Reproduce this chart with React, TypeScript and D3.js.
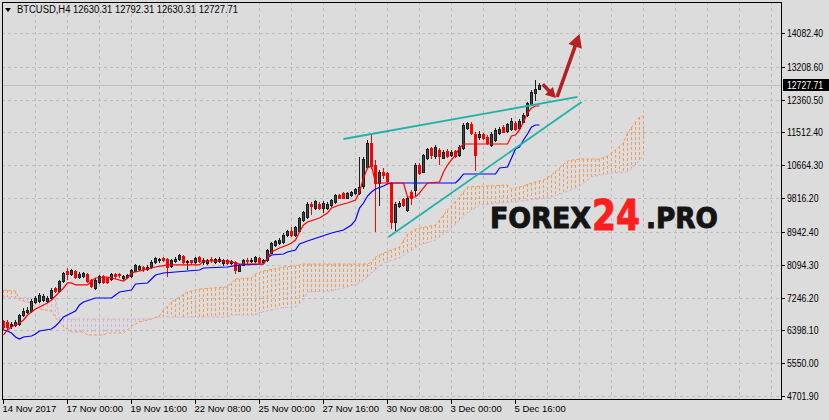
import React from 'react';
import * as d3 from 'd3';

const W = 829;
const H = 420;

// H4 bars, 14 Nov 2017 onwards
const opens = [
  6640, 6602, 6511, 6537, 6563, 6795, 6873, 6899, 7132, 7157,
  7183, 7157, 7235, 7493, 7416, 7674, 7933, 7855, 7933, 7777,
  7803, 7855, 7700, 7493, 7648, 7803, 7739, 7726, 7855, 7855,
  7752, 7777, 7790, 7945, 7984, 8036, 7984, 8036, 8152, 8217,
  8268, 8242, 8062, 8178, 8242, 8320, 8152, 8217, 8152, 8294,
  8152, 8139, 8255, 8165, 8178, 8139, 8217, 8139, 8165, 7945,
  8100, 8229, 8191, 8191, 8268, 8165, 8217, 8410, 8604, 8656,
  8669, 8850, 8953, 8861, 8953, 9250, 9315, 9664, 9560, 9676,
  9573, 9560, 9638, 9715, 9896, 9935, 9831, 9896, 9948, 9948,
  10116, 10620, 11240, 10671, 10206, 10499, 10465, 10206, 9211, 9599,
  9793, 9509, 9974, 10025, 10671, 10503, 10852, 11111, 10891, 11059,
  10865, 11033, 10930, 11033, 10930, 11111, 11627, 11731, 11460, 11382,
  11460, 11395, 11188, 11317, 11498, 11653, 11550, 11602, 11764, 11627,
  11795, 11963, 12248, 12532, 12630.31,
];
const highs = [
  6666, 6653, 6615, 6666, 6821, 6976, 7002, 7209, 7286, 7364,
  7338, 7286, 7493, 7519, 7700, 7907, 8010, 7984, 7958, 7907,
  7907, 7881, 7726, 7752, 7829, 7829, 7777, 7881, 7881, 7881,
  7829, 7855, 7984, 8113, 8088, 8062, 8088, 8217, 8294, 8268,
  8294, 8268, 8242, 8294, 8372, 8346, 8217, 8229, 8294, 8320,
  8268, 8242, 8281, 8268, 8281, 8242, 8242, 8204, 8191, 8113,
  8242, 8268, 8268, 8307, 8294, 8255, 8501, 8682, 8733, 8785,
  8914, 8992, 9069, 9095, 9328, 9483, 9715, 9723, 9767, 9715,
  9741, 9715, 9793, 9922, 9922, 9961, 9974, 9999, 10077, 10878,
  10878, 11317, 11447, 10801, 10542, 10594, 10491, 10232, 9715, 9741,
  9819, 9844, 10025, 10723, 10723, 10956, 11111, 11137, 11188, 11111,
  11059, 11085, 11059, 11059, 11188, 11757, 11783, 11783, 11524, 11550,
  11498, 11447, 11524, 11627, 11653, 11705, 11757, 11886, 11808, 11860,
  12015, 12299, 12609, 12868, 12792.31,
];
const lows = [
  6434, 6434, 6460, 6511, 6537, 6770, 6847, 6873, 7106, 7132,
  7157, 7132, 7209, 7390, 7390, 7648, 7726, 7829, 7752, 7752,
  7777, 7648, 7519, 7467, 7623, 7623, 7623, 7700, 7752, 7777,
  7726, 7752, 7777, 7933, 7958, 7933, 7958, 8010, 8139, 8165,
  8191, 7803, 8036, 8165, 8217, 8139, 7984, 8113, 8139, 8165,
  8113, 8113, 8165, 8139, 8165, 8075, 8113, 8113, 7881, 7933,
  8088, 8139, 8165, 8165, 8139, 8139, 8191, 8397, 8578, 8630,
  8656, 8837, 8837, 8837, 8940, 9224, 9302, 9405, 9535, 9535,
  9457, 9535, 9612, 9689, 9819, 9819, 9819, 9870, 9922, 9922,
  10077, 10594, 10594, 8966, 9638, 10336, 10206, 9043, 8992, 9586,
  9612, 9483, 9664, 9896, 10439, 10491, 10827, 10852, 10852, 10697,
  10852, 10878, 10904, 10878, 10904, 11085, 11602, 11472, 10542, 11343,
  11343, 11214, 11162, 11292, 11472, 11524, 11524, 11576, 11576, 11602,
  11783, 11938, 12222, 12351, 12630.31,
];
const closes = [
  6485, 6485, 6563, 6615, 6795, 6899, 6937, 7157, 7222, 7312,
  7286, 7235, 7454, 7403, 7674, 7881, 7855, 7958, 7777, 7855,
  7881, 7674, 7545, 7700, 7803, 7648, 7648, 7855, 7803, 7816,
  7803, 7829, 7958, 8088, 8049, 7971, 8036, 8165, 8268, 8242,
  8229, 8036, 8217, 8255, 8333, 8152, 8191, 8152, 8268, 8178,
  8217, 8217, 8204, 8242, 8255, 8229, 8139, 8191, 7958, 8088,
  8217, 8191, 8229, 8281, 8152, 8229, 8475, 8643, 8707, 8733,
  8875, 8966, 8861, 9069, 9289, 9444, 9676, 9599, 9741, 9560,
  9702, 9664, 9767, 9896, 9831, 9831, 9948, 9974, 10064, 10103,
  10839, 11240, 10646, 10206, 10491, 10413, 10245, 9211, 9676, 9689,
  9638, 9819, 9831, 10671, 10465, 10930, 11085, 10917, 11137, 10891,
  10995, 10904, 11007, 10891, 11144, 11705, 11744, 11498, 10930, 11485,
  11361, 11240, 11485, 11576, 11614, 11537, 11718, 11808, 11594, 11808,
  11963, 12266, 12558, 12648, 12727.71,
];

// Ichimoku lines, [bar, price] vertices
const tenkan = [
  [0, 6279], [1, 6408], [2, 6485], [3, 6537], [4, 6589], [5, 6666], [6, 6795], [7, 6873], [8, 6950],
  [10, 7054], [11, 7106], [12, 7183], [13, 7286], [14, 7390], [15, 7493], [16, 7623], [17, 7623],
  [18, 7571], [21, 7571], [22, 7674], [23, 7752], [26, 7777], [28, 7726], [30, 7674], [31, 7752],
  [32, 7881], [34, 7933], [36, 7984], [38, 8036], [41, 8088], [49, 8088], [50, 8191], [56, 8191],
  [58, 8139], [59, 8113], [65, 8113], [66, 8268], [67, 8423], [69, 8527], [71, 8604], [72, 8656],
  [73, 8733], [74, 8940], [75, 9121], [76, 9198], [79, 9302], [81, 9431], [82, 9560], [84, 9638],
  [86, 9689], [88, 9767], [89, 9974], [90, 10336], [91, 10594], [92, 10646], [93, 10206], [100, 10206],
  [101, 9844], [103, 9844], [104, 9948], [105, 10077], [106, 10206], [109, 10232], [110, 10491],
  [111, 10671], [112, 10801], [113, 10930], [114, 11111], [115, 11214], [126, 11214], [127, 11421],
  [128, 11447], [129, 11576], [130, 11783], [131, 12015], [132, 12144], [133, 12196], [134, 12196],
];
const kijun = [
  [0, 6408], [1, 6382], [2, 6330], [3, 6227], [4, 6175], [5, 6227], [7, 6253], [8, 6304], [9, 6382],
  [12, 6434], [13, 6511], [14, 6615], [15, 6744], [17, 6847], [18, 6899], [19, 7054], [20, 7132],
  [23, 7235], [27, 7235], [28, 7312], [29, 7390], [32, 7441], [33, 7596], [36, 7622], [37, 7726],
  [38, 7829], [40, 7881], [49, 7958], [50, 8010], [56, 8036], [59, 8088], [65, 8113], [66, 8268],
  [67, 8346], [70, 8372], [71, 8423], [73, 8475], [74, 8630], [76, 8707], [79, 8811], [82, 8914],
  [85, 8992], [87, 9121], [88, 9250], [89, 9560], [90, 9689], [91, 9870], [92, 9974], [93, 10051],
  [95, 10129], [96, 10180], [97, 10206], [113, 10206], [114, 10310], [115, 10439], [123, 10439],
  [124, 10594], [126, 10620], [127, 10852], [128, 11085], [129, 11137], [130, 11317], [131, 11472],
  [132, 11653], [133, 11705], [134, 11705],
];
const spanA = [
  [0, 7441], [3, 7416], [4, 7183], [7, 7106], [8, 6976], [10, 6925], [12, 6899], [13, 6718], [14, 6615],
  [15, 6485], [16, 6434], [17, 6356], [20, 6356], [21, 6279], [25, 6279], [26, 6330], [30, 6330],
  [31, 6408], [32, 6511], [34, 6615], [37, 6692], [39, 6770], [40, 6925], [42, 7132], [44, 7261],
  [46, 7390], [49, 7467], [52, 7493], [56, 7519], [57, 7623], [58, 7726], [62, 7752], [63, 7855],
  [65, 7933], [69, 8010], [70, 8036], [73, 8062], [75, 8113], [91, 8113], [92, 8165], [93, 8294],
  [95, 8397], [97, 8475], [99, 8553], [101, 8888], [103, 9017], [108, 9121], [111, 9509], [114, 9844],
  [116, 10103], [126, 10155], [127, 10051], [130, 10129], [132, 10206], [135, 10284], [137, 10413],
  [139, 10594], [141, 10775], [144, 10827], [149, 10827], [151, 10904], [153, 11059], [155, 11240],
  [156, 11498], [158, 11783], [159, 11912], [160, 11938],
];
const spanB = [
  [0, 7261], [13, 7209], [14, 6692], [37, 6692], [38, 6744], [56, 6744], [57, 6795], [63, 6795],
  [64, 6847], [67, 6925], [69, 6976], [73, 7002], [75, 7183], [76, 7390], [82, 7416], [86, 7519],
  [89, 7623], [91, 7777], [92, 7881], [95, 8139], [99, 8268], [104, 8604], [108, 8733], [112, 9043],
  [116, 9431], [119, 9638], [127, 9715], [136, 9819], [140, 9948], [144, 10129], [147, 10361],
  [152, 10465], [156, 10491], [158, 10671], [160, 10930],
];

const upperTrend = [[85, 11343], [143.5, 12429]];
const lowerTrend = [[96.25, 8811], [144.5, 12299]];
const arrows = [
  { from: [134.8, 12757], to: [138.1, 12400], head: 10 },
  { from: [138.4, 12429], to: [144, 14056], head: 13 },
];

const priceTicks = [14082.4, 13208.6, 12360.5, 11512.4, 10664.3, 9816.2, 8942.4, 8094.3, 7246.2, 6398.1, 5550.0, 4701.9];
const timeTickBars = [0, 16, 32, 48, 64, 80, 96, 112, 128];
const timeTickLabels = ['14 Nov 2017', '17 Nov 00:00', '19 Nov 16:00', '22 Nov 08:00', '25 Nov 00:00', '27 Nov 16:00', '30 Nov 08:00', '3 Dec 00:00', '5 Dec 16:00'];
const lastPrice = 12727.71;
const header = 'BTCUSD,H4  12630.31 12792.31 12630.31 12727.71';

function arrowPath(x0: number, y0: number, x1: number, y1: number, head: number) {
  const dx = x1 - x0, dy = y1 - y0;
  const len = Math.hypot(dx, dy);
  const ux = dx / len, uy = dy / len;
  const nx = -uy, ny = ux;
  const s = 1.8, hw = head * 0.55;
  const bx = x1 - ux * head, by = y1 - uy * head;
  const pts = [
    [x0 + nx * s, y0 + ny * s], [bx + nx * s, by + ny * s], [bx + nx * hw, by + ny * hw], [x1, y1],
    [bx - nx * hw, by - ny * hw], [bx - nx * s, by - ny * s], [x0 - nx * s, y0 - ny * s],
  ];
  return 'M' + pts.map(p => p[0].toFixed(1) + ',' + p[1].toFixed(1)).join('L') + 'Z';
}

export default function App() {
  const left = 2, top = 2, right = 781, bottom = 399;
  const x = d3.scaleLinear().domain([0, 1]).range([3.5, 7.5]);
  const y = d3.scaleLinear().domain([4701.9, 14082.4]).range([396, 33]);
  const line = d3.line<number[]>().x(d => x(d[0])).y(d => y(d[1]));

  // piecewise scales that follow the drawn span lines, used for the cloud hatching
  const aAt = d3.scaleLinear().domain(spanA.map(d => d[0])).range(spanA.map(d => d[1]));
  const bAt = d3.scaleLinear().domain(spanB.map(d => d[0])).range(spanB.map(d => d[1]));
  const cloudBars = d3.range(0, spanA[spanA.length - 1][0] + 1);

  const vGrid = d3.range(8, 200, 8).filter(i => x(i) < right);
  const lastY = Math.round(y(lastPrice)) + 0.5;
  const axisFont = '"Liberation Sans", Arial, sans-serif';

  // dotted hatch: 3px dash, 2px gap, one column per bar
  const hatch: JSX.Element[] = [];
  cloudBars.forEach(i => {
    const a = aAt(i), b = bAt(i);
    const y1 = Math.round(y(Math.max(a, b)));
    const y2 = Math.round(y(Math.min(a, b)));
    const color = a >= b ? '#F39C55' : '#D4B2D4';
    for (let yy = y1; yy < y2; yy += 5) {
      hatch.push(<rect key={i + '-' + yy} x={x(i) - 0.5} y={yy} width={1} height={Math.min(3, y2 - yy)} fill={color} />);
    }
  });

  return (
    <svg width={W} height={H} style={{ position: 'absolute', left: 0, top: 0, display: 'block' }}>
      <defs>
        <clipPath id="plotArea"><rect x={left} y={top} width={right - left} height={bottom - top} /></clipPath>
      </defs>

      <rect x={0} y={0} width={W} height={H} fill="#DCDCDC" />

      {/* grid */}
      <g stroke="#BDBDBD" strokeDasharray="3,3" strokeWidth={1}>
        {vGrid.map(i => <line key={'v' + i} x1={x(i)} x2={x(i)} y1={top} y2={bottom} />)}
        {priceTicks.map(p => {
          const yy = Math.round(y(p)) + 0.5;
          return <line key={'h' + p} x1={left} x2={right} y1={yy} y2={yy} />;
        })}
      </g>

      {/* cloud */}
      <g clipPath="url(#plotArea)">
        {hatch}
        <path d={line(spanB) as string} fill="none" stroke="#D4B2D4" strokeDasharray="3,2" />
        <path d={line(spanA) as string} fill="none" stroke="#F39C55" strokeDasharray="3,2" />
      </g>

      <line x1={left} x2={right} y1={lastY} y2={lastY} stroke="#C0C0C0" />

      {/* candles */}
      <g clipPath="url(#plotArea)">
        {closes.map((c, i) => {
          const o = opens[i];
          const up = c >= o;
          const cx = x(i);
          const yH = Math.round(y(highs[i]));
          const yL = Math.round(y(lows[i]));
          const yO = Math.round(y(o));
          const yC = Math.round(y(c));
          const t = Math.min(yO, yC);
          const b = Math.max(yO, yC);
          const edge = up ? '#1C1C1C' : '#FF0000';
          return (
            <g key={i}>
              <line x1={cx} x2={cx} y1={yH} y2={yL + 1} stroke={edge} />
              <rect x={cx - 1} y={t + 0.5} width={2} height={Math.max(b - t, 1)}
                fill={up ? '#2F4F4F' : '#FF0000'} stroke={edge} />
            </g>
          );
        })}
      </g>

      {/* tenkan / kijun */}
      <path d={line(kijun) as string} fill="none" stroke="#0000FF" strokeWidth={1.2} />
      <path d={line(tenkan) as string} fill="none" stroke="#FF0000" strokeWidth={1.2} />

      {/* trend lines */}
      <path d={line(upperTrend) as string} stroke="#20B2AA" strokeWidth={1.8} fill="none" />
      <path d={line(lowerTrend) as string} stroke="#20B2AA" strokeWidth={1.8} fill="none" />

      {/* watermark */}
      <g fontFamily='"DejaVu Sans", sans-serif' fontWeight="bold" strokeLinejoin="round">
        <text x={490} y={228} fontSize={29} fill="#141414" stroke="#141414" strokeWidth={1} textLength={101} lengthAdjust="spacingAndGlyphs">FOREX</text>
        <text x={592} y={230} fontSize={43} fill="#FF1E1E" stroke="#FF1E1E" strokeWidth={1} textLength={48} lengthAdjust="spacingAndGlyphs">24</text>
        <text x={646} y={228} fontSize={29} fill="#141414" stroke="#141414" strokeWidth={1} textLength={72} lengthAdjust="spacingAndGlyphs">.PRO</text>
      </g>

      {/* arrows */}
      {arrows.map((a, k) => (
        <path key={k} d={arrowPath(x(a.from[0]), y(a.from[1]), x(a.to[0]), y(a.to[1]), a.head)} fill="#B22222" />
      ))}

      {/* frame */}
      <rect x={left + 0.5} y={top + 0.5} width={right - left} height={bottom - top} fill="none" stroke="#000" />

      {/* price axis */}
      <g fontFamily={axisFont} fontSize={10} fill="#000">
        {priceTicks.map(p => {
          const yy = Math.round(y(p)) + 0.5;
          const label = p.toFixed(2);
          return (
            <g key={'p' + p}>
              <line x1={right} x2={right + 4} y1={yy} y2={yy} stroke="#000" />
              <text x={787} y={yy + 3.5} textLength={label.length * 4.5} lengthAdjust="spacingAndGlyphs">{label}</text>
            </g>
          );
        })}
      </g>
      <rect x={783} y={lastY - 6.5} width={46} height={12} fill="#000" />
      <text x={787} y={lastY + 3.5} fontFamily={axisFont} fontSize={10} fill="#FFF" textLength={36} lengthAdjust="spacingAndGlyphs">{lastPrice.toFixed(2)}</text>

      {/* time axis */}
      <g fontFamily={axisFont} fontSize={9.5} fill="#000">
        {timeTickBars.map((b, k) => {
          const xx = Math.floor(x(b)) + 0.5;
          return (
            <g key={'t' + b}>
              <line x1={xx} x2={xx} y1={bottom} y2={bottom + 5} stroke="#000" />
              <text x={xx - 1} y={412}>{timeTickLabels[k]}</text>
            </g>
          );
        })}
      </g>

      {/* header */}
      <path d="M5,8 L11,8 L8,12 Z" fill="#000" />
      <text x={17} y={13} fontFamily={axisFont} fontSize={10} fill="#000" textLength={221} lengthAdjust="spacingAndGlyphs">{header}</text>
    </svg>
  );
}
